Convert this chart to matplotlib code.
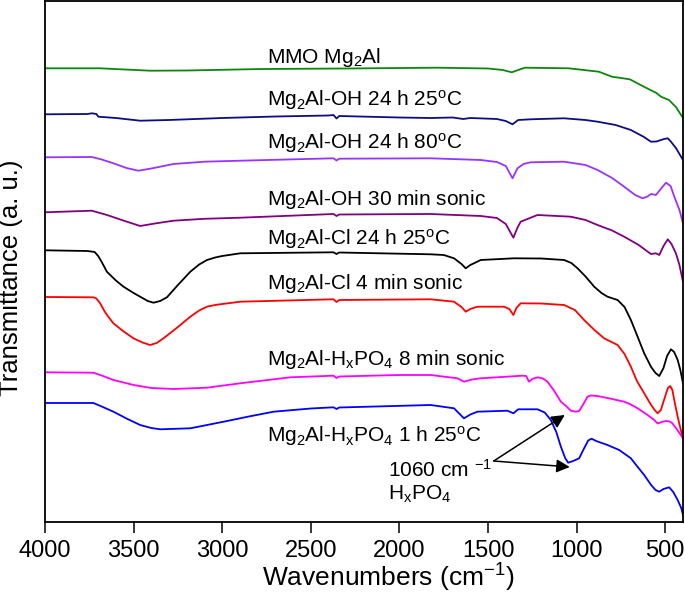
"""FTIR spectra of Mg2Al LDH samples (stacked transmittance, a.u.)."""

import matplotlib

matplotlib.use("Agg")
import matplotlib.pyplot as plt

# ---- data (wavenumber in cm-1, transmittance in a.u.) ----
wn_mmo = [4000, 3689, 3550, 3407, 3200, 2774, 2300, 1785, 1500, 1417,
          1366, 1330, 1293, 1045, 875, 801, 750, 700, 650, 603,
          550, 524, 479, 440, 400]
t_mmo = [453.7, 453.7, 452.5, 451.3, 451.5, 453.0, 453.5, 454.3, 453.5, 452.0,
         449.7, 452.0, 454.3, 453.7, 450.3, 445.3, 444.0, 442.7, 438.0, 433.7,
         429.0, 425.3, 422.0, 415.0, 404.0]

wn_oh25 = [4000, 3760, 3736, 3710, 3699, 3600, 3463, 3300, 3000, 2700,
           2400, 2372, 2355, 2340, 2000, 1824, 1700, 1640, 1600, 1450,
           1400, 1362, 1330, 1259, 1072, 950, 882, 780, 694, 620,
           581, 550, 507, 486, 468, 440, 400]
t_oh25 = [407.7, 408.0, 408.7, 408.0, 405.3, 404.0, 401.3, 402.0, 404.0, 405.5,
          406.5, 407.0, 403.5, 406.0, 404.5, 404.0, 404.5, 403.0, 404.0, 403.0,
          401.0, 397.7, 402.0, 402.7, 403.7, 402.0, 400.3, 397.0, 392.0, 385.0,
          380.3, 380.5, 383.0, 383.7, 380.3, 374.0, 362.0]

wn_oh80 = [4000, 3736, 3680, 3614, 3540, 3473, 3400, 3275, 3100, 2898,
           2372, 2355, 2340, 1824, 1541, 1450, 1400, 1362, 1334, 1300,
           1259, 1071, 950, 882, 800, 732, 670, 628, 600, 581,
           565, 553, 530, 496, 470, 449, 420, 400]
t_oh80 = [364.7, 365.0, 362.5, 358.7, 354.0, 351.3, 353.5, 358.0, 360.3, 361.3,
          363.7, 361.5, 363.3, 363.7, 362.0, 360.0, 356.0, 343.7, 353.7, 358.0,
          359.7, 360.3, 357.0, 352.0, 344.0, 335.3, 327.0, 323.7, 325.5, 328.0,
          327.5, 327.0, 332.0, 339.3, 336.0, 325.3, 312.0, 298.7]

wn_oh_son = [4000, 3736, 3650, 3550, 3463, 3380, 3275, 3100, 2898, 2372,
             2355, 2340, 1824, 1541, 1450, 1400, 1357, 1335, 1316, 1221,
             1033, 950, 882, 800, 732, 650, 581, 553, 534, 510,
             486, 465, 440, 420, 400]
t_oh_son = [309.7, 311.3, 307.0, 301.0, 296.0, 298.5, 301.3, 303.2, 304.3, 308.0,
            306.0, 307.5, 308.0, 306.0, 304.0, 298.0, 284.3, 294.0, 300.3, 307.0,
            305.3, 302.0, 297.0, 291.5, 285.3, 277.0, 268.0, 268.7, 267.0, 276.0,
            282.7, 278.0, 268.7, 257.0, 240.3]

wn_cl24 = [4000, 3760, 3720, 3700, 3680, 3651, 3600, 3557, 3500, 3463,
           3420, 3388, 3350, 3312, 3250, 3180, 3130, 3086, 3040, 3000,
           2898, 2372, 2355, 2340, 1824, 1750, 1692, 1650, 1626, 1600,
           1541, 1353, 1200, 1071, 1030, 995, 950, 901, 860, 826,
           769, 730, 694, 660, 619, 580, 555, 534, 510, 490,
           468, 450, 430, 415, 400]
t_cl24 = [271.7, 271.0, 270.0, 266.0, 260.0, 250.3, 241.5, 235.3, 229.0, 225.3,
          221.0, 219.3, 221.0, 224.7, 237.0, 250.3, 257.5, 262.0, 264.5, 266.0,
          268.7, 269.7, 268.0, 269.5, 267.7, 267.0, 263.7, 258.0, 253.7, 257.0,
          262.0, 263.7, 263.5, 262.0, 259.0, 253.7, 245.5, 235.3, 229.0, 225.3,
          222.0, 215.0, 202.0, 187.0, 168.7, 155.0, 149.0, 146.0, 154.0, 166.0,
          172.7, 170.0, 162.0, 152.0, 138.7]

wn_cl_son = [4000, 3727, 3710, 3690, 3665, 3650, 3614, 3560, 3501, 3450,
             3407, 3370, 3331, 3250, 3180, 3130, 3086, 3040, 3000, 2898,
             2372, 2355, 2340, 1824, 1692, 1650, 1626, 1600, 1560, 1410,
             1380, 1357, 1340, 1316, 1200, 1071, 1010, 958, 900, 845,
             769, 730, 694, 660, 619, 580, 560, 543, 525, 500,
             485, 472, 460, 445, 430, 415, 400]
t_cl_son = [225.0, 224.7, 223.5, 219.0, 211.0, 207.0, 198.7, 191.0, 183.7, 179.5,
            177.0, 179.0, 183.7, 195.0, 205.3, 211.5, 215.3, 217.0, 218.0, 220.3,
            222.7, 220.0, 222.0, 222.7, 220.3, 215.0, 210.3, 213.0, 215.3, 215.3,
            213.0, 207.0, 214.0, 218.7, 218.5, 217.0, 212.0, 202.0, 192.0, 183.7,
            177.0, 168.0, 155.3, 141.0, 128.7, 117.0, 112.0, 108.7, 112.0, 126.0,
            134.0, 136.0, 132.0, 118.0, 105.3, 94.0, 83.7]

wn_po4_son = [4000, 3727, 3680, 3614, 3500, 3400, 3275, 3086, 2898, 2615,
              2372, 2355, 2340, 2000, 1824, 1673, 1636, 1590, 1541, 1306,
              1285, 1269, 1250, 1221, 1190, 1165, 1130, 1089, 1060, 1033,
              1004, 986, 965, 939, 920, 882, 800, 732, 700, 656,
              600, 562, 543, 520, 496, 475, 460, 440, 420, 400]
t_po4_son = [149.7, 149.3, 146.5, 142.0, 137.0, 134.0, 133.0, 134.3, 138.7, 144.7,
             146.3, 144.0, 145.5, 147.0, 147.0, 143.7, 140.3, 142.5, 143.7, 146.3,
             146.0, 140.3, 143.0, 144.7, 143.5, 140.3, 132.0, 120.3, 116.0, 111.3,
             110.3, 111.0, 117.0, 125.3, 126.5, 126.0, 123.0, 120.3, 118.0, 113.7,
             107.0, 102.0, 98.5, 100.0, 101.0, 100.5, 98.7, 94.0, 89.0, 83.7]

wn_po4_1h = [4000, 3727, 3680, 3614, 3540, 3463, 3400, 3350, 3180, 3100,
             2992, 2850, 2710, 2500, 2372, 2355, 2340, 1824, 1692, 1660,
             1636, 1600, 1560, 1391, 1357, 1330, 1221, 1180, 1146, 1115,
             1089, 1065, 1048, 1020, 986, 960, 935, 916, 890, 826,
             760, 694, 660, 619, 580, 555, 534, 510, 478, 455,
             430, 410, 400]
t_po4_1h = [119.0, 119.0, 115.5, 110.3, 103.5, 97.0, 94.0, 92.7, 93.7, 96.5,
            100.3, 105.5, 110.3, 113.5, 114.7, 113.0, 114.5, 117.0, 113.7, 108.0,
            103.7, 107.5, 110.3, 111.3, 108.7, 112.7, 112.7, 109.5, 102.0, 90.0,
            75.3, 64.0, 59.3, 61.0, 63.7, 73.0, 81.5, 83.3, 81.0, 77.0,
            72.0, 63.7, 56.0, 47.0, 37.0, 32.0, 30.3, 33.0, 34.7, 30.0,
            22.0, 14.0, 7.0]

labels = [
    "MMO Mg$_2$Al",
    "Mg$_2$Al-OH 24 h 25$^{\\mathrm{o}}$C",
    "Mg$_2$Al-OH 24 h 80$^{\\mathrm{o}}$C",
    "Mg$_2$Al-OH 30 min sonic",
    "Mg$_2$Al-Cl 24 h 25$^{\\mathrm{o}}$C",
    "Mg$_2$Al-Cl 4 min sonic",
    "Mg$_2$Al-H$_\\mathrm{x}$PO$_4$ 8 min sonic",
    "Mg$_2$Al-H$_\\mathrm{x}$PO$_4$ 1 h 25$^{\\mathrm{o}}$C",
]
colors = ["#0a880a", "#0c0c85", "#9933ff", "#800080",
          "#000000", "#ff0000", "#ff00ff", "#0000ff"]
# label anchor (wavenumber of left edge, baseline transmittance)
label_wn = 2745
label_t = [458.7, 416.3, 373.0, 317.0, 277.0, 232.7, 157.0, 80.3]

peak_lines = ["1060 cm $^{-1}$", "H$_\\mathrm{x}$PO$_4$"]
peak_wn = 2062
peak_t = [45.0, 22.0]
peak_tail = (1468, 61)
peak_heads = [(1067, 107), (1039, 55)]


def main() -> None:
    plt.rcParams.update({
        "font.family": ["Liberation Sans", "DejaVu Sans"],
        "mathtext.fontset": "custom",
        "mathtext.rm": "Liberation Sans",
        "mathtext.it": "Liberation Sans",
        "mathtext.bf": "Liberation Sans:bold",
    })

    spectra = [
        (wn_mmo, t_mmo), (wn_oh25, t_oh25), (wn_oh80, t_oh80), (wn_oh_son, t_oh_son),
        (wn_cl24, t_cl24), (wn_cl_son, t_cl_son), (wn_po4_son, t_po4_son),
        (wn_po4_1h, t_po4_1h),
    ]

    fig = plt.figure(figsize=(6.85, 6.06), dpi=100)
    ax = fig.add_axes([45 / 685, 84 / 606, 638 / 685, 521 / 606])

    for (wn, t), color, label, ty in zip(spectra, colors, labels, label_t):
        ax.plot(wn, t, color=color, lw=1.3)
        ax.text(label_wn, ty, label, fontsize=15, ha="left", va="baseline")

    # annotation for the phosphate band
    for line, ty in zip(peak_lines, peak_t):
        ax.text(peak_wn, ty, line, fontsize=15, ha="left", va="baseline")
    for head in peak_heads:
        ax.annotate("", xy=head, xytext=peak_tail,
                    arrowprops=dict(arrowstyle="-|>", color="black", lw=1.1,
                                    mutation_scale=20, shrinkA=0, shrinkB=0))

    ax.set_xlim(4000, 400)
    ax.set_ylim(0, 521)
    ax.set_xticks([4000, 3500, 3000, 2500, 2000, 1500, 1000, 500])
    ax.set_yticks([])
    ax.tick_params(axis="x", direction="out", length=8, width=1.1,
                   labelsize=17, pad=5)
    for spine in ax.spines.values():
        spine.set_linewidth(1.3)

    ax.set_xlabel("Wavenumbers (cm$^{-1}$)", fontsize=19)
    ax.xaxis.set_label_coords(0.538, -0.076)
    ax.set_ylabel("Transmittance (a. u.)", fontsize=18.5)
    ax.yaxis.set_label_coords(-0.034, 0.468)

    fig.savefig("out.png", dpi=100)
    plt.close(fig)


if __name__ == "__main__":
    main()
